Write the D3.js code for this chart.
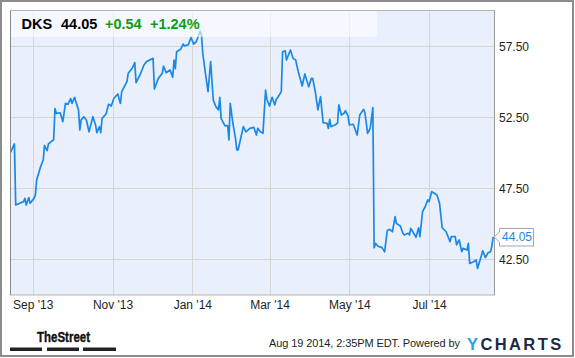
<!DOCTYPE html>
<html><head><meta charset="utf-8">
<script src="https://cdn.jsdelivr.net/npm/d3@7/dist/d3.min.js"></script>
<style>html,body{margin:0;padding:0;background:#fff;}svg{display:block;font-family:"Liberation Sans",Arial,sans-serif;}</style>
</head><body>
<svg id="c" width="575" height="358"></svg>
<script>
const dates = ["2013-08-15","2013-08-18","2013-08-19","2013-08-22","2013-08-25","2013-08-26","2013-08-27","2013-08-29","2013-08-30","2013-09-02","2013-09-03","2013-09-04","2013-09-07","2013-09-09","2013-09-10","2013-09-12","2013-09-13","2013-09-16","2013-09-17","2013-09-18","2013-09-19","2013-09-22","2013-09-24","2013-09-26","2013-09-28","2013-09-30","2013-10-01","2013-10-03","2013-10-04","2013-10-06","2013-10-07","2013-10-08","2013-10-10","2013-10-12","2013-10-14","2013-10-16","2013-10-17","2013-10-19","2013-10-20","2013-10-22","2013-10-23","2013-10-24","2013-10-27","2013-10-29","2013-10-31","2013-11-02","2013-11-05","2013-11-07","2013-11-08","2013-11-11","2013-11-12","2013-11-13","2013-11-16","2013-11-18","2013-11-19","2013-11-22","2013-11-25","2013-11-27","2013-12-02","2013-12-03","2013-12-06","2013-12-09","2013-12-10","2013-12-12","2013-12-15","2013-12-17","2013-12-18","2013-12-19","2013-12-20","2013-12-23","2013-12-25","2013-12-26","2013-12-29","2013-12-31","2014-01-02","2014-01-04","2014-01-07","2014-01-08","2014-01-09","2014-01-11","2014-01-13","2014-01-15","2014-01-17","2014-01-19","2014-01-21","2014-01-22","2014-01-23","2014-01-26","2014-01-28","2014-01-29","2014-01-30","2014-02-01","2014-02-03","2014-02-04","2014-02-05","2014-02-07","2014-02-09","2014-02-11","2014-02-14","2014-02-17","2014-02-19","2014-02-20","2014-02-22","2014-02-24","2014-02-26","2014-02-27","2014-03-01","2014-03-03","2014-03-05","2014-03-06","2014-03-10","2014-03-11","2014-03-13","2014-03-14","2014-03-17","2014-03-19","2014-03-21","2014-03-23","2014-03-26","2014-03-28","2014-03-29","2014-03-31","2014-04-02","2014-04-03","2014-04-05","2014-04-07","2014-04-09","2014-04-11","2014-04-14","2014-04-15","2014-04-16","2014-04-17","2014-04-20","2014-04-22","2014-04-23","2014-04-25","2014-04-27","2014-04-28","2014-04-30","2014-05-01","2014-05-04","2014-05-07","2014-05-09","2014-05-12","2014-05-13","2014-05-15","2014-05-17","2014-05-19","2014-05-20","2014-05-21","2014-05-23","2014-05-26","2014-05-28","2014-05-30","2014-06-01","2014-06-03","2014-06-05","2014-06-06","2014-06-09","2014-06-11","2014-06-12","2014-06-15","2014-06-16","2014-06-17","2014-06-19","2014-06-21","2014-06-23","2014-06-24","2014-06-26","2014-06-28","2014-06-30","2014-07-01","2014-07-03","2014-07-05","2014-07-07","2014-07-09","2014-07-11","2014-07-14","2014-07-17","2014-07-18","2014-07-21","2014-07-22","2014-07-24","2014-07-26","2014-07-27","2014-07-30","2014-07-31","2014-08-01","2014-08-04","2014-08-06","2014-08-07","2014-08-09","2014-08-11","2014-08-13","2014-08-15","2014-08-17","2014-08-18","2014-08-19"];
const prices = [50.0,50.6,46.3,46.42,46.54,46.77,46.3,46.82,46.42,46.77,47.0,48.06,49.0,49.47,50.5,50.13,50.6,50.83,50.9,53.1,52.76,52.8,52.17,53.46,53.4,53.8,53.46,53.89,53.58,53.0,51.58,52.3,52.52,52.29,51.46,52.17,52.52,51.94,51.4,51.82,51.4,52.4,52.71,53.4,53.27,53.8,54.12,53.46,54.28,54.82,54.99,55.58,55.93,56.33,54.92,55.46,56.16,56.4,56.63,54.47,55.22,55.58,56.09,55.62,55.81,55.3,56.51,55.9,57.1,57.27,57.64,57.5,57.6,58.1,57.64,57.8,58.56,58.27,56.98,55.58,54.28,56.4,53.7,53.23,53.0,53.89,52.4,51.87,51.9,50.88,53.46,52.06,51.0,50.18,50.18,51.0,51.82,51.46,51.7,51.77,51.23,51.7,51.46,51.35,54.4,53.75,53.27,53.89,53.35,53.7,54.28,57.1,57.17,56.51,57.22,56.63,56.51,55.69,54.68,55.53,55.22,54.63,55.22,55.22,54.28,53.0,53.93,52.1,52.06,51.7,52.34,51.82,51.94,52.06,53.35,52.64,52.76,52.94,52.59,51.94,51.99,51.23,52.64,53.04,52.76,51.35,51.7,53.16,43.3,43.6,43.4,43.3,43.0,44.5,44.59,44.42,45.48,45.01,44.83,44.31,44.19,44.31,44.19,44.66,44.35,44.03,44.7,44.07,45.83,46.18,46.66,46.54,47.24,47.13,47.01,46.42,44.7,44.42,43.72,44.07,44.07,43.49,43.84,43.01,43.25,43.13,43.6,42.19,42.31,42.43,41.84,42.43,43.08,42.6,42.93,43.01,43.43,44.05];
const yTicks = [42.5, 47.5, 52.5, 57.5];
const xTicks = ["2013-09-01","2013-11-01","2014-01-01","2014-03-01","2014-05-01","2014-07-01"];
const xDomain = ["2013-08-15","2014-08-20"];
const header = [{t:"DKS",c:"#000"},{t:"44.05",c:"#000"},{t:"+0.54",c:"#119a11"},{t:"+1.24%",c:"#119a11"}];
const lastLabel = "44.05";
const footerText = "Aug 19 2014, 2:35PM EDT. Powered by";

const parse = d3.timeParse("%Y-%m-%d");
const data = dates.map((d,i)=>({date:parse(d), v:prices[i]}));
const svg = d3.select("#c");
const L=10.5, R=494.5, T=10.5, B=295;

const x = d3.scaleTime().domain(xDomain.map(parse)).range([L,R]);
const y = d3.scaleLinear().domain([42.5,57.5]).range([259,46]);

// outer frame
svg.append("rect").attr("x",1).attr("y",1).attr("width",572).attr("height",355)
  .attr("fill","#fff").attr("stroke","#8c8c8c").attr("stroke-width",2);
// plot background
svg.append("rect").attr("x",L).attr("y",T).attr("width",R-L).attr("height",B-T).attr("fill","#eaf0fb");

// grid
svg.append("g").selectAll("line").data(yTicks).join("line")
  .attr("x1",L).attr("x2",R).attr("y1",d=>Math.round(y(d))+0.5).attr("y2",d=>Math.round(y(d))+0.5)
  .attr("stroke","#d6d6d6");
svg.append("g").selectAll("line").data(xTicks.map(parse)).join("line")
  .attr("y1",T).attr("y2",B).attr("x1",d=>Math.round(x(d))+0.5).attr("x2",d=>Math.round(x(d))+0.5)
  .attr("stroke","#d6d6d6");

// line
svg.append("clipPath").attr("id","pc").append("rect").attr("x",L).attr("y",T).attr("width",R-L).attr("height",B-T);
svg.append("path").datum(data).attr("clip-path","url(#pc)")
  .attr("fill","none").attr("stroke","#1a88e6").attr("stroke-width",1.7).attr("stroke-linejoin","round")
  .attr("d", d3.line().x(d=>x(d.date)).y(d=>y(d.v)));

// header band
svg.append("rect").attr("x",L+0.5).attr("y",T+0.5).attr("width",366).attr("height",26)
  .attr("fill","#fbfdff").attr("fill-opacity",0.62);

// plot border
svg.append("rect").attr("x",L).attr("y",T).attr("width",R-L).attr("height",B-T)
  .attr("fill","none").attr("stroke","#b4b4b4");
svg.append("line").attr("x1",L).attr("x2",L).attr("y1",T).attr("y2",B).attr("stroke","#8a8a8a");
svg.append("line").attr("x1",R).attr("x2",R).attr("y1",T).attr("y2",B).attr("stroke","#9a9a9a");

// header text
const hx = [21.5, 61, 105, 150];
header.forEach((h,i)=>{ svg.append("text").attr("x",hx[i]).attr("y",28.5).attr("font-size","14.5px")
  .attr("font-weight","bold").attr("fill",h.c).text(h.t); });

// y axis labels
const yAxis = d3.axisRight(y).tickValues(yTicks).tickFormat(d3.format(".2f")).tickSize(0).tickPadding(0);
const ya = svg.append("g").attr("transform",`translate(499,0)`).call(yAxis);
ya.select(".domain").remove();
ya.selectAll("text").attr("font-size","12px").attr("fill","#1e1e1e").attr("font-family","Liberation Sans, Arial, sans-serif").attr("dy","0.35em");

// x axis labels
const xAxis = d3.axisBottom(x).tickValues(xTicks.map(parse)).tickFormat(d3.timeFormat("%b '%y")).tickSize(0).tickPadding(0);
const xa = svg.append("g").attr("transform",`translate(0,${B})`).call(xAxis);
xa.select(".domain").remove();
xa.selectAll("text").attr("font-size","12px").attr("fill","#1e1e1e").attr("font-family","Liberation Sans, Arial, sans-serif").attr("dy","0").attr("y",14);

// last price tag
const last = data[data.length-1];
const ly = y(last.v);
const lx = x(last.date);
svg.append("path").attr("d",`M${lx+1},${ly} L${499.5},${ly-5} L${499.5},${ly-8.5} L${533.5},${ly-8.5} L${533.5},${ly+9} L${499.5},${ly+9} L${499.5},${ly+5} Z`)
  .attr("fill","#fff").attr("stroke","#a6a6a6");
svg.append("text").attr("x",502).attr("y",ly+4.3).attr("font-size","12px").attr("fill","#1a88e6").text(lastLabel);

// footer: TheStreet logo
svg.append("text").attr("x",37).attr("y",341.5).attr("font-size","15px").attr("font-weight","bold")
  .attr("font-family","'Liberation Sans Narrow','Arial Narrow',sans-serif").attr("textLength",53).attr("lengthAdjust","spacingAndGlyphs")
  .attr("stroke","#111").attr("stroke-width",0.4)
  .attr("fill","#111").text("TheStreet");
[[10,42],[47,79],[83,116]].forEach(b=>svg.append("rect").attr("x",b[0]).attr("y",347.5).attr("width",b[1]-b[0]).attr("height",3.5).attr("fill","#222"));

// footer text
svg.append("text").attr("x",269).attr("y",347).attr("font-size","11px").attr("fill","#1e1e1e")
  .attr("letter-spacing","-0.1px").text(footerText);
const yc = svg.append("text").attr("x",467).attr("y",350).attr("font-size","16.5px").attr("font-weight","bold")
  .attr("letter-spacing","2.4px").attr("font-family","'Liberation Sans',Arial,sans-serif");
yc.append("tspan").attr("fill","#2aa2e2").text("Y");
yc.append("tspan").attr("fill","#1c2a44").text("CHARTS");
</script>
</body></html>
